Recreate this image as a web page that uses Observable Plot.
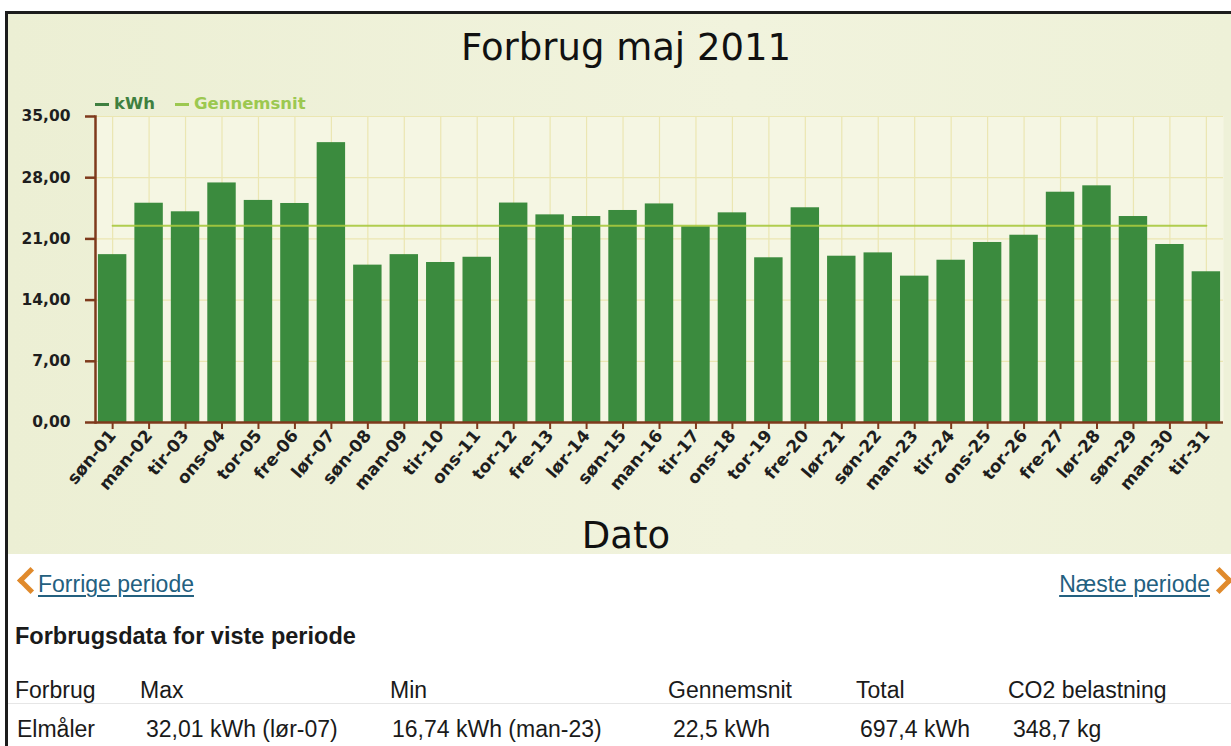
<!DOCTYPE html>
<html><head><meta charset="utf-8">
<script src="https://cdn.jsdelivr.net/npm/d3@7"></script>
<script src="https://cdn.jsdelivr.net/npm/@observablehq/plot@0.6"></script>
<style>
body{margin:0;background:#fff;width:1231px;height:746px;overflow:hidden;position:relative;font-family:"Liberation Sans",Arial,sans-serif;color:#1a1a1a}
.abs{position:absolute;white-space:nowrap;line-height:1}
.dv{font-family:"DejaVu Sans",Verdana,sans-serif}
.link{color:#23607f;text-decoration:underline;text-decoration-thickness:1.5px;text-underline-offset:3px;font-size:23px}
.chev{position:absolute;width:14px;height:14px;border-left:5px solid #e08a2c;border-bottom:5px solid #e08a2c}
.cell{font-size:23px}
</style></head><body>
<div class="abs" style="left:5px;top:11px;width:1300px;height:800px;border-left:3px solid #1c1c1c;border-top:3px solid #1c1c1c"></div>
<div class="abs" style="left:8px;top:14px;width:1223px;height:540px;background:linear-gradient(90deg,#ecefd4 0%,#f1f3dd 60%,#eef1d8 100%)"></div>
<div id="chart" class="abs" style="left:0;top:0"></div>
<div class="abs dv" style="left:0;width:1252px;text-align:center;top:29px;font-size:37px;color:#111">Forbrug maj 2011</div>
<div class="abs dv" style="left:0;width:1252px;text-align:center;top:517px;font-size:37px;color:#111">Dato</div>
<div id="legend" class="abs dv" style="left:95px;top:93px;font-size:16.5px;font-weight:bold"></div>

<div class="chev" style="left:21px;top:571px;transform:rotate(45deg)"></div>
<div class="abs link" style="left:38px;top:573px">Forrige periode</div>
<div class="abs link" style="right:21px;top:573px">Næste periode</div>
<div class="chev" style="left:1210px;top:571px;transform:rotate(-135deg)"></div>

<div class="abs" style="left:15px;top:625px;font-size:23.5px;font-weight:bold">Forbrugsdata for viste periode</div>
<div class="abs" style="left:8px;top:703px;width:1223px;height:1px;background:#e6e6e6"></div>
<div id="table"></div>

<script>
// ---- data ----
const days = ["søn-01","man-02","tir-03","ons-04","tor-05","fre-06","lør-07","søn-08","man-09","tir-10","ons-11","tor-12","fre-13","lør-14","søn-15","man-16","tir-17","ons-18","tor-19","fre-20","lør-21","søn-22","man-23","tir-24","ons-25","tor-26","fre-27","lør-28","søn-29","man-30","tir-31"];
const kWh = [19.2,25.08,24.1,27.4,25.4,25.05,32.01,18.0,19.2,18.3,18.9,25.1,23.75,23.56,24.25,25.0,22.4,23.98,18.84,24.56,19.02,19.4,16.74,18.56,20.59,21.42,26.34,27.07,23.56,20.36,17.24];
const gennemsnit = 22.5;
const yTicks = [0,7,14,21,28,35];
const legendItems = ["kWh","Gennemsnit"];
const tableHeader = ["Forbrug","Max","Min","Gennemsnit","Total","CO2 belastning"];
const tableRow = ["Elmåler","32,01 kWh (lør-07)","16,74 kWh (man-23)","22,5 kWh","697,4 kWh","348,7 kg"];

// ---- styles ----
const barColor = "#3b8b3e";
const avgColor = "#a9c93e";
const axisColor = "#7e3a1c";
const gridColor = "#ebe6b2";
const legendColors = ["#3f8040","#9cc850"];

const data = days.map((d, i) => ({day: d, kWh: kWh[i]}));
const fmt = v => v.toFixed(2).replace(".", ",");

const chart = Plot.plot({
  width: 1231,
  height: 560,
  marginTop: 116,
  marginBottom: 138,
  marginLeft: 95,
  marginRight: 8,
  style: {background: "transparent", fontFamily: "DejaVu Sans, Verdana, sans-serif", color: "#1e1e1e"},
  x: {domain: days, paddingInner: 0.22, paddingOuter: 0.08, round: false, label: null},
  y: {domain: [0, 35], label: null},
  marks: [
    Plot.frame({fill: "#f5f6e3", stroke: null}),
    Plot.gridY(yTicks, {stroke: gridColor, strokeOpacity: 1, strokeWidth: 1.2}),
    Plot.gridX({stroke: gridColor, strokeOpacity: 1, strokeWidth: 1.2}),
    Plot.barY(data, {x: "day", y: "kWh", fill: barColor}),
    Plot.lineY(data, {x: "day", y: () => gennemsnit, stroke: avgColor, strokeWidth: 2, strokeOpacity: 0.9}),
    Plot.axisY({ticks: yTicks, tickFormat: fmt, tickSize: 10, tickPadding: 15, stroke: axisColor, strokeWidth: 2.5, fill: "#1e1e1e", fontSize: 15.5, fontWeight: "bold", label: null}),
    Plot.axisX({tickRotate: -50, tickSize: 7, tickPadding: 3, stroke: axisColor, strokeWidth: 2, fill: "#1e1e1e", fontSize: 17, fontWeight: "bold", label: null}),
    Plot.frame({anchor: "left", stroke: axisColor, strokeWidth: 2.5}),
    Plot.ruleY([0], {stroke: axisColor, strokeWidth: 2.5})
  ]
});
document.getElementById("chart").append(chart);

// legend
const lg = document.getElementById("legend");
legendItems.forEach((name, i) => {
  const s = document.createElement("span");
  s.style.cssText = `color:${legendColors[i]};margin-right:20px;display:inline-flex;align-items:center`;
  s.innerHTML = `<span style="display:inline-block;width:14px;height:3px;background:${legendColors[i]};margin-right:5px"></span>${name}`;
  lg.append(s);
});

// table
const colX = [15,140,390,668,856,1008];
const rowX = [17,146,392,673,860,1013];
const tb = document.getElementById("table");
tableHeader.forEach((t, i) => {
  const d = document.createElement("div");
  d.className = "abs cell"; d.style.left = colX[i] + "px"; d.style.top = "679px"; d.textContent = t; tb.append(d);
});
tableRow.forEach((t, i) => {
  const d = document.createElement("div");
  d.className = "abs cell"; d.style.left = rowX[i] + "px"; d.style.top = "718px"; d.textContent = t; tb.append(d);
});
</script>
</body></html>
